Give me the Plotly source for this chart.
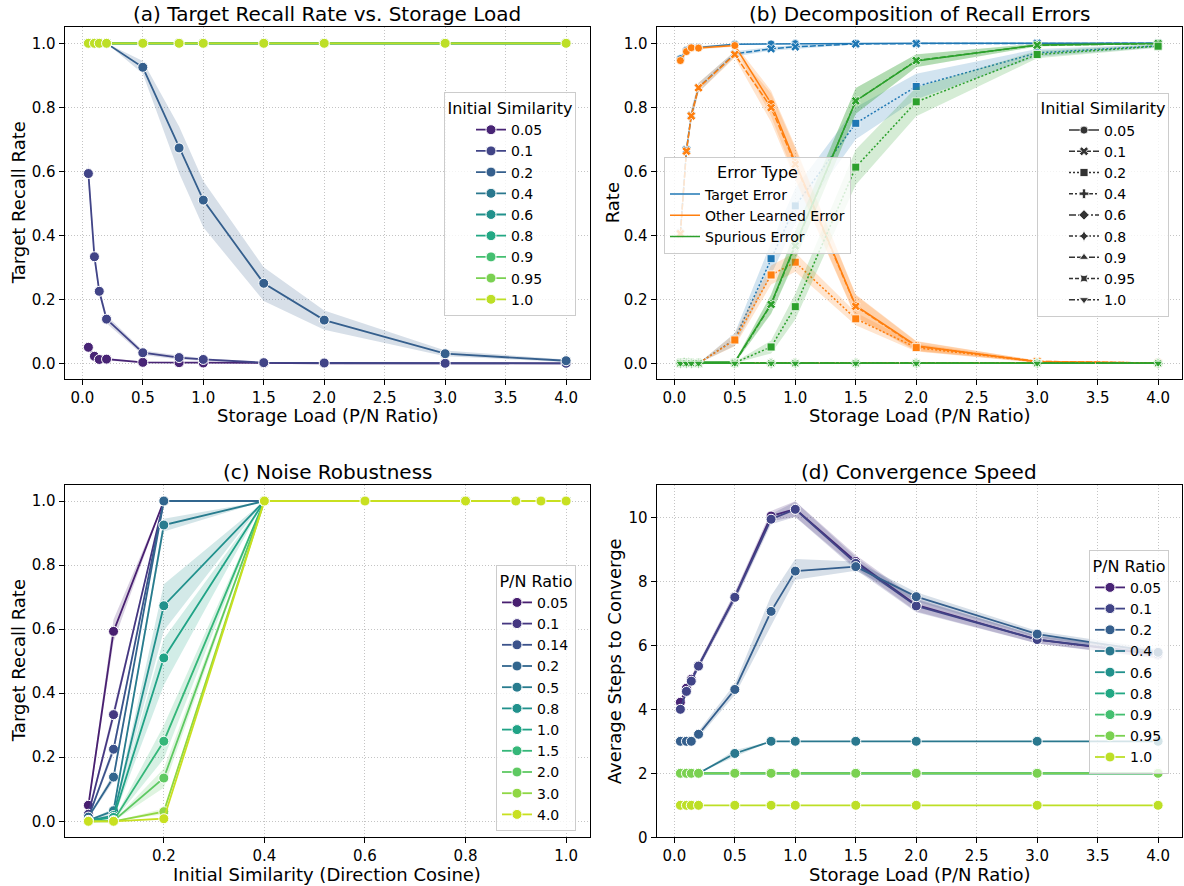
import plotly.graph_objects as go

# ---------------- data ----------------
PN = [0.05, 0.1, 0.14, 0.2, 0.5, 0.8, 1.0, 1.5, 2.0, 3.0, 4.0]
PN_LABELS = ["0.05", "0.1", "0.14", "0.2", "0.5", "0.8", "1.0", "1.5", "2.0", "3.0", "4.0"]
SIM = [0.05, 0.1, 0.2, 0.4, 0.6, 0.8, 0.9, 0.95, 1.0]
SIM_LABELS = ["0.05", "0.1", "0.2", "0.4", "0.6", "0.8", "0.9", "0.95", "1.0"]

# Target recall rate (rows: initial similarity, columns: P/N ratio)
RECALL_005 = [0.050, 0.022, 0.012, 0.013, 0.003, 0.002, 0.001, 0.000, 0.000, 0.000, 0.000]
RECALL_01 = [0.593, 0.333, 0.225, 0.138, 0.033, 0.018, 0.012, 0.002, 0.001, 0.000, 0.000]
RECALL_02 = [1.000, 1.000, 1.000, 1.000, 0.925, 0.673, 0.510, 0.250, 0.135, 0.030, 0.008]
RECALL_ONE = [1.0, 1.0, 1.0, 1.0, 1.0, 1.0, 1.0, 1.0, 1.0, 1.0, 1.0]
RECALL_005_LO = [0.040, 0.016, 0.008, 0.009, 0.001, 0.000, 0.000, 0.000, 0.000, 0.000, 0.000]
RECALL_005_HI = [0.060, 0.028, 0.016, 0.017, 0.005, 0.004, 0.002, 0.001, 0.000, 0.000, 0.000]
RECALL_01_LO = [0.560, 0.315, 0.210, 0.125, 0.026, 0.012, 0.008, 0.000, 0.000, 0.000, 0.000]
RECALL_01_HI = [0.630, 0.350, 0.240, 0.150, 0.040, 0.024, 0.016, 0.004, 0.002, 0.000, 0.000]
RECALL_02_LO = [1.000, 1.000, 1.000, 1.000, 0.905, 0.595, 0.425, 0.195, 0.105, 0.022, 0.004]
RECALL_02_HI = [1.000, 1.000, 1.000, 1.000, 0.945, 0.740, 0.570, 0.300, 0.165, 0.040, 0.012]

# Error decomposition (x = P/N ratio)
ZEROS = [0.0, 0.0, 0.0, 0.0, 0.0, 0.0, 0.0, 0.0, 0.0, 0.0, 0.0]
TE_005 = [0.952, 0.978, 0.988, 0.987, 0.997, 0.998, 0.999, 1.000, 1.000, 1.000, 1.000]
TE_01 = [0.407, 0.667, 0.775, 0.862, 0.967, 0.983, 0.989, 0.998, 0.999, 1.000, 1.000]
TE_02 = [0.000, 0.000, 0.000, 0.000, 0.075, 0.327, 0.492, 0.750, 0.865, 0.970, 0.992]
OLE_005 = [0.946, 0.974, 0.986, 0.985, 0.993, 0.812, 0.628, 0.180, 0.055, 0.005, 0.001]
OLE_01 = [0.405, 0.663, 0.773, 0.861, 0.965, 0.799, 0.622, 0.178, 0.053, 0.006, 0.001]
OLE_02 = [0.000, 0.000, 0.000, 0.000, 0.073, 0.276, 0.316, 0.139, 0.049, 0.005, 0.001]
SE_005 = [0.004, 0.004, 0.002, 0.002, 0.004, 0.186, 0.371, 0.820, 0.945, 0.995, 0.999]
SE_01 = [0.002, 0.004, 0.002, 0.001, 0.002, 0.184, 0.367, 0.820, 0.946, 0.994, 0.999]
SE_02 = [0.000, 0.000, 0.000, 0.000, 0.002, 0.051, 0.177, 0.613, 0.817, 0.965, 0.991]
TE_005_ERR = [0.010, 0.006, 0.004, 0.004, 0.002, 0.002, 0.001, 0.000, 0.000, 0.000, 0.000]
TE_01_ERR = [0.030, 0.020, 0.020, 0.015, 0.008, 0.006, 0.005, 0.002, 0.001, 0.000, 0.000]
TE_02_ERR = [0.000, 0.000, 0.000, 0.000, 0.020, 0.050, 0.055, 0.050, 0.040, 0.012, 0.005]
OLE_005_ERR = [0.010, 0.006, 0.004, 0.004, 0.004, 0.040, 0.050, 0.035, 0.015, 0.003, 0.001]
OLE_01_ERR = [0.030, 0.020, 0.020, 0.015, 0.010, 0.045, 0.050, 0.035, 0.015, 0.003, 0.001]
OLE_02_ERR = [0.000, 0.000, 0.000, 0.000, 0.020, 0.030, 0.030, 0.020, 0.012, 0.003, 0.001]
SE_005_ERR = [0.003, 0.003, 0.002, 0.002, 0.003, 0.030, 0.045, 0.040, 0.020, 0.004, 0.001]
SE_01_ERR = [0.002, 0.003, 0.002, 0.001, 0.002, 0.030, 0.045, 0.040, 0.020, 0.004, 0.001]
SE_02_ERR = [0.000, 0.000, 0.000, 0.000, 0.002, 0.020, 0.040, 0.055, 0.045, 0.012, 0.005]
ERROR_TYPES = ["Target Error", "Other Learned Error", "Spurious Error"]

# Convergence steps (rows: initial similarity, columns: P/N ratio)
STEPS_005 = [4.22, 4.66, 4.94, 5.36, 7.52, 10.04, 10.26, 8.62, 7.26, 6.18, 5.70]
STEPS_01 = [4.00, 4.56, 4.88, 5.35, 7.50, 9.94, 10.25, 8.56, 7.23, 6.18, 5.73]
STEPS_02 = [3.00, 3.00, 3.00, 3.22, 4.62, 7.06, 8.32, 8.46, 7.52, 6.35, 5.78]
STEPS_04 = [2.00, 2.00, 2.00, 2.00, 2.62, 3.00, 3.00, 3.00, 3.00, 3.00, 3.00]
STEPS_MID = [2.0, 2.0, 2.0, 2.0, 2.0, 2.0, 2.0, 2.0, 2.0, 2.0, 2.0]
STEPS_ONE = [1.0, 1.0, 1.0, 1.0, 1.0, 1.0, 1.0, 1.0, 1.0, 1.0, 1.0]
STEPS_005_LO = [4.12, 4.56, 4.84, 5.26, 7.38, 9.88, 10.02, 8.42, 7.06, 6.06, 5.58]
STEPS_005_HI = [4.32, 4.76, 5.04, 5.46, 7.66, 10.20, 10.50, 8.82, 7.46, 6.30, 5.82]
STEPS_01_LO = [3.90, 4.46, 4.78, 5.25, 7.36, 9.78, 10.01, 8.36, 7.03, 6.06, 5.61]
STEPS_01_HI = [4.10, 4.66, 4.98, 5.45, 7.64, 10.10, 10.49, 8.76, 7.43, 6.30, 5.85]
STEPS_02_LO = [3.00, 3.00, 3.00, 3.12, 4.45, 6.60, 8.05, 8.33, 7.38, 6.25, 5.68]
STEPS_02_HI = [3.00, 3.00, 3.00, 3.32, 4.80, 7.55, 8.70, 8.62, 7.66, 6.45, 5.88]
STEPS_04_LO = [2.00, 2.00, 2.00, 2.00, 2.52, 3.00, 3.00, 3.00, 3.00, 3.00, 3.00]
STEPS_04_HI = [2.00, 2.00, 2.00, 2.00, 2.72, 3.00, 3.00, 3.00, 3.00, 3.00, 3.00]

X_TICKS_PN = [0.0, 0.5, 1.0, 1.5, 2.0, 2.5, 3.0, 3.5, 4.0]
X_TICKS_SIM = [0.2, 0.4, 0.6, 0.8, 1.0]
Y_TICKS_RATE = [0.0, 0.2, 0.4, 0.6, 0.8, 1.0]
Y_TICKS_STEPS = [0, 2, 4, 6, 8, 10]

# ---------------- styles ----------------
VIR9 = ["#482475", "#414487", "#355f8d", "#2a788e", "#21918c", "#22a884", "#44bf70", "#7ad151", "#bddf26"]
VIR11 = ["#481f70", "#453781", "#3b528b", "#31668e", "#287c8e", "#21918c", "#20a386",
         "#35b779", "#5ec962", "#8fd744", "#c8e020"]
ERR_COLORS = ["#1f77b4", "#ff7f0e", "#2ca02c"]
STYLE_SYMBOLS = ["circle", "x", "square", "cross", "diamond", "star-diamond",
                 "triangle-up", "star-diamond", "triangle-down"]
STYLE_ANGLES = [0, 0, 0, 0, 0, 0, 0, 45, 0]
STYLE_DASHES = ["solid", "6px,2px", "2px,2px", "4px,2px,2px,2px", "7px,2px,2px,2px",
                "4px,2px,2px,2px,2px,2px", "6px,2px,6px,2px,2px,2px",
                "4px,2px,4px,2px,2px,2px", "6px,2px,2px,2px,2px,2px"]

FONT = "DejaVu Sans"
W, H = 1184, 886


def rgba(hx, a):
    hx = hx.lstrip("#")
    r, g, b = int(hx[0:2], 16), int(hx[2:4], 16), int(hx[4:6], 16)
    return f"rgba({r},{g},{b},{a})"


recall_rows = [RECALL_005, RECALL_01, RECALL_02] + [RECALL_ONE] * 6
recall_lo = [RECALL_005_LO, RECALL_01_LO, RECALL_02_LO] + [RECALL_ONE] * 6
recall_hi = [RECALL_005_HI, RECALL_01_HI, RECALL_02_HI] + [RECALL_ONE] * 6

fig = go.Figure()


def band(x, lo, hi, color, xa, ya):
    if all(abs(a - b) < 1e-9 for a, b in zip(lo, hi)):
        return
    fig.add_trace(go.Scatter(
        x=list(x) + list(x)[::-1], y=list(hi) + list(lo)[::-1],
        fill="toself", fillcolor=rgba(color, 0.2), line=dict(width=0),
        mode="lines", hoverinfo="skip", showlegend=False, xaxis=xa, yaxis=ya))


MS = 10

# ---------- (a) recall vs storage load ----------
for i, lab in enumerate(SIM_LABELS):
    band(PN, recall_lo[i], recall_hi[i], VIR9[i], "x", "y")
    fig.add_trace(go.Scatter(
        x=PN, y=recall_rows[i], mode="lines+markers", name=lab,
        line=dict(color=VIR9[i], width=1.8),
        marker=dict(size=MS, color=VIR9[i], line=dict(color="white", width=1)),
        xaxis="x", yaxis="y", legend="legend"))

# ---------- (b) error decomposition ----------
te_rows = [TE_005, TE_01, TE_02] + [ZEROS] * 6
ole_rows = [OLE_005, OLE_01, OLE_02] + [ZEROS] * 6
se_rows = [SE_005, SE_01, SE_02] + [ZEROS] * 6
te_err = [TE_005_ERR, TE_01_ERR, TE_02_ERR] + [ZEROS] * 6
ole_err = [OLE_005_ERR, OLE_01_ERR, OLE_02_ERR] + [ZEROS] * 6
se_err = [SE_005_ERR, SE_01_ERR, SE_02_ERR] + [ZEROS] * 6
for k, (rows, errs) in enumerate([(te_rows, te_err), (ole_rows, ole_err), (se_rows, se_err)]):
    c = ERR_COLORS[k]
    for i in range(len(SIM)):
        vals, e = rows[i], errs[i]
        band(PN, [v - d for v, d in zip(vals, e)], [v + d for v, d in zip(vals, e)], c, "x2", "y2")
        fig.add_trace(go.Scatter(
            x=PN, y=vals, mode="lines+markers", showlegend=False,
            line=dict(color=c, width=1.5, dash=STYLE_DASHES[i]),
            marker=dict(size=8, color=c, symbol=STYLE_SYMBOLS[i], angle=STYLE_ANGLES[i],
                        line=dict(color="white", width=0.8)),
            xaxis="x2", yaxis="y2"))
# legend entries for (b)
for k, name in enumerate(ERROR_TYPES):
    fig.add_trace(go.Scatter(x=[None], y=[None], mode="lines", name=name,
                             line=dict(color=ERR_COLORS[k], width=1.5),
                             xaxis="x2", yaxis="y2", legend="legend3"))
for i, lab in enumerate(SIM_LABELS):
    fig.add_trace(go.Scatter(x=[None], y=[None], mode="lines+markers", name=lab,
                             line=dict(color="#333333", width=1.5, dash=STYLE_DASHES[i]),
                             marker=dict(size=8, color="#333333", symbol=STYLE_SYMBOLS[i],
                                         angle=STYLE_ANGLES[i], line=dict(color="white", width=0.8)),
                             xaxis="x2", yaxis="y2", legend="legend2"))

# ---------- (c) noise robustness ----------
for j, lab in enumerate(PN_LABELS):
    yv = [recall_rows[i][j] for i in range(len(SIM))]
    lo = [recall_lo[i][j] for i in range(len(SIM))]
    hi = [recall_hi[i][j] for i in range(len(SIM))]
    band(SIM, lo, hi, VIR11[j], "x3", "y3")
    fig.add_trace(go.Scatter(
        x=SIM, y=yv, mode="lines+markers", name=lab,
        line=dict(color=VIR11[j], width=1.8),
        marker=dict(size=MS, color=VIR11[j], line=dict(color="white", width=1)),
        xaxis="x3", yaxis="y3", legend="legend4"))

# ---------- (d) convergence speed ----------
steps_rows = [STEPS_005, STEPS_01, STEPS_02, STEPS_04] + [STEPS_MID] * 4 + [STEPS_ONE]
steps_lo = [STEPS_005_LO, STEPS_01_LO, STEPS_02_LO, STEPS_04_LO] + [STEPS_MID] * 4 + [STEPS_ONE]
steps_hi = [STEPS_005_HI, STEPS_01_HI, STEPS_02_HI, STEPS_04_HI] + [STEPS_MID] * 4 + [STEPS_ONE]
for i, lab in enumerate(SIM_LABELS):
    band(PN, steps_lo[i], steps_hi[i], VIR9[i], "x4", "y4")
    fig.add_trace(go.Scatter(
        x=PN, y=steps_rows[i], mode="lines+markers", name=lab,
        line=dict(color=VIR9[i], width=1.8),
        marker=dict(size=MS, color=VIR9[i], line=dict(color="white", width=1)),
        xaxis="x4", yaxis="y4", legend="legend5"))


# ---------------- layout ----------------
def px_x(p):
    return p / W


def px_y(p):
    return 1 - p / H


XA = [px_x(64.5), px_x(590)]
XB = [px_x(656.5), px_x(1182)]
YT = [px_y(379.3), px_y(27.3)]
YB = [px_y(837.3), px_y(485)]

axis_common = dict(showline=True, linecolor="black", linewidth=1, mirror=True,
                   ticks="outside", ticklen=5, tickwidth=1, tickcolor="black",
                   showgrid=True, gridcolor="#c4c4c4", griddash="1px,2px", gridwidth=1,
                   zeroline=False, tickfont=dict(family=FONT, size=15, color="black"),
                   automargin=False)

layout = dict(
    width=W, height=H, margin=dict(l=0, r=0, t=0, b=0),
    paper_bgcolor="white", plot_bgcolor="white",
    font=dict(family=FONT, color="black"),
    xaxis=dict(domain=XA, anchor="y", range=[-0.1475, 4.1975], tickvals=X_TICKS_PN, tickformat=".1f", **axis_common),
    yaxis=dict(domain=YT, anchor="x", range=[-0.05, 1.05], tickvals=Y_TICKS_RATE, tickformat=".1f", **axis_common),
    xaxis2=dict(domain=XB, anchor="y2", range=[-0.1475, 4.1975], tickvals=X_TICKS_PN, tickformat=".1f", **axis_common),
    yaxis2=dict(domain=YT, anchor="x2", range=[-0.05, 1.05], tickvals=Y_TICKS_RATE, tickformat=".1f", **axis_common),
    xaxis3=dict(domain=XA, anchor="y3", range=[0.0025, 1.0475], tickvals=X_TICKS_SIM, tickformat=".1f", **axis_common),
    yaxis3=dict(domain=YB, anchor="x3", range=[-0.05, 1.05], tickvals=Y_TICKS_RATE, tickformat=".1f", **axis_common),
    xaxis4=dict(domain=XB, anchor="y4", range=[-0.1475, 4.1975], tickvals=X_TICKS_PN, tickformat=".1f", **axis_common),
    yaxis4=dict(domain=YB, anchor="x4", range=[0, 11.01], tickvals=Y_TICKS_STEPS, tickformat="d", **axis_common),
)

leg_common = dict(bgcolor="rgba(255,255,255,0.8)", bordercolor="#cccccc", borderwidth=1,
                  font=dict(family=FONT, size=14, color="black"), itemclick=False,
                  tracegroupgap=0)


def leg(title, x, y, xanchor="right", indent=0):
    d = dict(leg_common)
    d.update(x=x, y=y, xanchor=xanchor, yanchor="top", indentation=indent,
             title=dict(text=title, side="top center", font=dict(family=FONT, size=16, color="black")))
    return d


layout["legend"] = leg("Initial Similarity", px_x(576), px_y(92.3), indent=26)
layout["legend2"] = leg("Initial Similarity", px_x(1169), px_y(92.7), indent=26)
layout["legend3"] = leg("Error Type", px_x(664), px_y(156.7), xanchor="left")
layout["legend4"] = leg("P/N Ratio", px_x(576), px_y(565))
layout["legend5"] = leg("P/N Ratio", px_x(1169), px_y(550))

ann = []


def text(t, x, y, size, angle=0, yanchor="middle"):
    ann.append(dict(text=t, x=x, y=y, xref="paper", yref="paper", showarrow=False,
                    xanchor="center", yanchor=yanchor, textangle=angle,
                    font=dict(family=FONT, size=size, color="black")))


cxa = (XA[0] + XA[1]) / 2
cxb = (XB[0] + XB[1]) / 2
cyt = (YT[0] + YT[1]) / 2
cyb = (YB[0] + YB[1]) / 2
text("(a) Target Recall Rate vs. Storage Load", cxa, px_y(14), 20)
text("(b) Decomposition of Recall Errors", cxb, px_y(14), 20)
text("(c) Noise Robustness", cxa, px_y(472), 20)
text("(d) Convergence Speed", cxb, px_y(472), 20)
text("Storage Load (P/N Ratio)", cxa, px_y(415), 18)
text("Storage Load (P/N Ratio)", cxb, px_y(415), 18)
text("Initial Similarity (Direction Cosine)", cxa, px_y(874), 18)
text("Storage Load (P/N Ratio)", cxb, px_y(874), 18)
text("Target Recall Rate", px_x(18), cyt, 18, -90)
text("Rate", px_x(612), cyt, 18, -90)
text("Target Recall Rate", px_x(18), cyb, 18, -90)
text("Average Steps to Converge", px_x(614), cyb, 18, -90)
layout["annotations"] = ann

fig.update_layout(**layout)
fig.write_html("out.html", config={"displayModeBar": False},
               post_script="document.body.style.margin='0';document.body.style.overflow='hidden';")
